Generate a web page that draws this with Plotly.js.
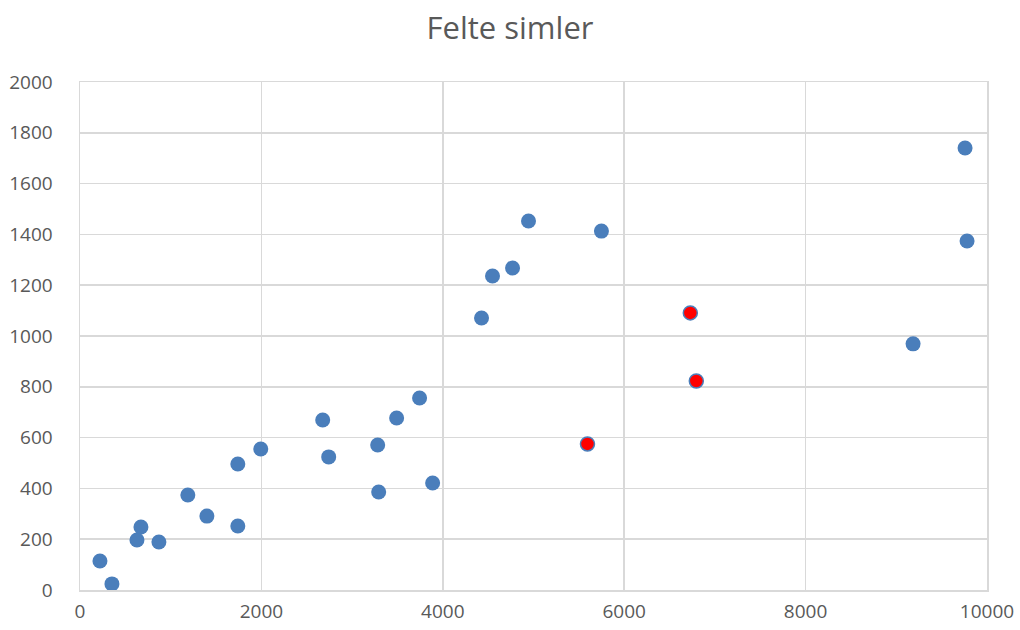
<!DOCTYPE html>
<html>
<head>
<meta charset="utf-8">
<script src="https://cdn.plot.ly/plotly-3.0.1.min.js"></script>
<style>html,body{margin:0;padding:0;background:#fff;}#chart{width:1020px;height:630px;}</style>
</head>
<body>
<div id="chart"></div>
<script>
var blueX = [220, 352, 628, 672, 870, 1189, 1399, 1740, 1740, 1993, 2676, 2742, 3282, 3293, 3491, 3744, 3888, 4427, 4548, 4769, 4945, 5749, 9185, 9758, 9780];
var blueY = [114, 24, 197, 248, 189, 374, 291, 252, 496, 555, 669, 524, 571, 386, 677, 756, 421, 1071, 1236, 1268, 1453, 1413, 969, 1740, 1374];
var redX = [5595, 6729, 6795];
var redY = [575, 1091, 823];
var xTicks = [0, 2000, 4000, 6000, 8000, 10000];
var yTicks = [0, 200, 400, 600, 800, 1000, 1200, 1400, 1600, 1800, 2000];

var traces = [
  {x: blueX, y: blueY, mode: 'markers', type: 'scatter',
   marker: {color: '#4a7ebb', size: 15, line: {width: 0}}, hoverinfo: 'x+y'},
  {x: redX, y: redY, mode: 'markers', type: 'scatter',
   marker: {color: '#ff0000', size: 14, line: {color: '#4a7ebb', width: 1.5}}, hoverinfo: 'x+y'}
];
var fam = 'Open Sans, Liberation Sans, sans-serif';
var layout = {
  width: 1020, height: 630,
  margin: {l: 80, r: 33, t: 82, b: 40},
  paper_bgcolor: '#ffffff', plot_bgcolor: '#ffffff',
  showlegend: false,
  title: {text: 'Felte simler', x: 0.5, xanchor: 'center', y: 0.955, yanchor: 'middle',
          font: {family: fam, color: '#595959', size: 31}},
  xaxis: {range: [0, 10000], tickvals: xTicks, ticktext: xTicks.map(String),
          showgrid: true, gridcolor: '#d9d9d9', gridwidth: 1.5,
          zeroline: false, showline: true, mirror: true, linecolor: '#d9d9d9', linewidth: 1.5,
          ticks: '', ticklabelstandoff: 4,
          tickfont: {family: fam, color: '#595959', size: 19}, fixedrange: true},
  yaxis: {range: [0, 2000], tickvals: yTicks, ticktext: yTicks.map(String),
          showgrid: true, gridcolor: '#d9d9d9', gridwidth: 1.5,
          zeroline: false, showline: true, mirror: true, linecolor: '#d9d9d9', linewidth: 1.5,
          ticks: '', ticklabelstandoff: 22,
          tickfont: {family: fam, color: '#595959', size: 19}, fixedrange: true}
};
Plotly.newPlot('chart', traces, layout, {displayModeBar: false, staticPlot: true});
</script>
</body>
</html>
